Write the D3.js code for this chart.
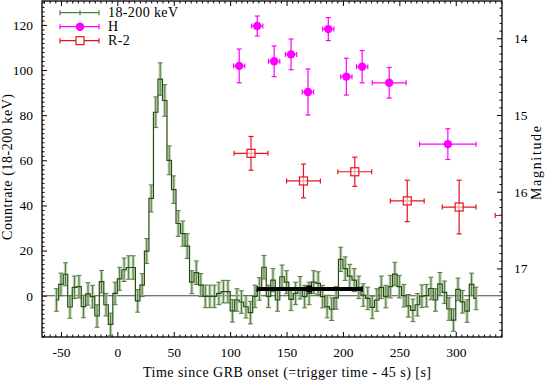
<!DOCTYPE html>
<html>
<head>
<meta charset="utf-8">
<script src="https://cdn.jsdelivr.net/npm/d3@7"></script>
<style>
  body { margin: 0; background: #fff; }
  svg { display: block; font-family: "Liberation Serif", "DejaVu Serif", serif; }
</style>
</head>
<body>
<div id="chart"></div>
<script>
// BAT 18-200 keV light curve, 4 s bins (bin start times, s)
const binStart = [
  -56, -52, -48, -44, -40, -36, -32, -28, -24, -20, -16, -12, -8, -4,
  0, 4, 8, 12, 16, 20, 24, 28, 32, 36, 40, 44, 48, 52, 56, 60,
  64, 68, 72, 76, 80, 84, 88, 92, 96, 100, 104, 108, 112, 116, 120, 124,
  128, 132, 136, 140, 144, 148, 152, 156, 160, 164, 168, 172, 176, 180, 184, 188,
  192, 196, 200, 204, 208, 212, 216, 220, 224, 228, 232, 236, 240, 244, 248, 252,
  256, 260, 264, 268, 272, 276, 280, 284, 288, 292, 296, 300, 304, 308, 312, 316
];
const counts = [
  -1.9, 5.0, 9.5, -5.0, 3.7, 4.0, -4.8, 0.8, -0.4, -9.0, 6.2, -4.0, -12.7, 1.0,
  7.5, 11.5, 12.5, 12.5, -2.3, 4.7, 19.8, 43.1, 81.3, 96.0, 86.5, 60.0, 47.0, 32.0, 27.5, 22.0,
  6.0, 10.2, 4.7, -0.3, -0.3, -0.3, 1.0, 1.8, 1.8, -6.7, -1.9, -2.8, -4.9, -7.5, -0.3, 3.0,
  12.6, -0.3, 6.9, -1.9, 8.4, 6.0, -1.6, 1.0, 3.5, -0.4, 1.0, 6.0, 5.5, -0.4, -4.8, -6.0,
  -1.0, 16.1, 12.0, 8.7, 6.9, 3.7, 0.3, -1.2, -5.2, -1.9, 3.7, -0.4, 4.0, 9.6, 4.0, 0.0,
  -4.5, -6.5, -4.0, -0.2, 0.0, 3.2, -1.9, 5.2, 1.5, -5.9, -10.8, 2.8, -2.7, -6.8, 5.0, -1.2
];
const countErr = [
  5.0, 5.0, 5.1, 5.0, 5.0, 5.0, 5.0, 5.0, 5.0, 5.0, 5.0, 5.0, 5.0, 5.0,
  5.1, 5.2, 5.2, 5.2, 5.0, 5.1, 5.5, 6.0, 6.8, 7.2, 7.0, 6.4, 6.1, 5.7, 5.6, 5.5,
  5.1, 5.2, 5.1, 5.0, 5.0, 5.0, 5.0, 5.0, 5.0, 5.0, 5.0, 5.0, 5.0, 5.0, 5.0, 5.0,
  5.2, 5.0, 5.1, 5.0, 5.2, 5.1, 5.0, 5.0, 5.0, 5.0, 5.0, 5.1, 5.1, 5.0, 5.0, 5.0,
  5.0, 5.4, 5.2, 5.2, 5.1, 5.0, 5.0, 5.0, 5.0, 5.0, 5.0, 5.0, 5.0, 5.2, 5.0, 5.0,
  5.0, 5.0, 5.0, 5.0, 5.0, 5.0, 5.0, 5.1, 5.0, 5.0, 5.0, 5.0, 5.0, 5.0, 5.0, 5.0
];
const binWidth = 4;

// mean level over the optical window
const meanT = 170, meanTlo = 124, meanThi = 217, meanLevel = 3;

// H band
const hTime = [108, 124, 139, 154, 169, 187, 203, 217, 241, 293];
const hTerr = [5, 5, 5, 5, 5, 5, 5, 5, 15, 25];
const hMag  = [14.36, 13.84, 14.30, 14.21, 14.70, 13.88, 14.50, 14.37, 14.58, 15.38];
const hMerr = [0.22, 0.13, 0.20, 0.20, 0.30, 0.15, 0.24, 0.21, 0.20, 0.20];

// R-2 band
const rTime = [118.5, 165, 210.5, 257, 303, 350];
const rTerr = [15, 15, 15, 15, 15, 15];
const rMag  = [15.50, 15.86, 15.74, 16.12, 16.20, 16.31];
const rMerr = [0.22, 0.22, 0.19, 0.27, 0.35, 0.25];

const xTicks = [-50, 0, 50, 100, 150, 200, 250, 300];
const yTicks = [0, 20, 40, 60, 80, 100, 120];
const magTicks = [14, 15, 16, 17];

const W = 547, H = 382;
const margin = { top: 1, right: 45, bottom: 45, left: 42 };
const width = W - margin.left - margin.right,
      height = H - margin.top - margin.bottom;

const green = "#244d10", greenErr = "#527d3d", greenFill = "#b3c7a8";
const magenta = "#ff00ff", red = "#e8121e";

const svg = d3.select("#chart").append("svg")
  .attr("width", W).attr("height", H);

const g = svg.append("g").attr("transform", `translate(${margin.left},${margin.top})`);

const x = d3.scaleLinear().domain([-66.8, 341]).range([0, width]);
const y = d3.scaleLinear().domain([-18.3, 130.6]).range([height, 0]);
const ym = d3.scaleLinear().domain([13.514, 17.894]).range([0, height]);

g.append("defs").append("clipPath").attr("id", "clip")
  .append("rect").attr("width", width).attr("height", height);

// axes (ticks inward)
const tickFmt = d => d;
const minorX = d3.range(-65, 341, 5).filter(d => d % 50 !== 0);
const minorY = d3.range(-18, 131, 2).filter(d => d % 20 !== 0);
const minorM = d3.range(13.6, 17.9, 0.1).map(d => +d.toFixed(1)).filter(d => Math.abs(d - Math.round(d)) > 0.01);

function styleAxis(sel) {
  sel.select(".domain").remove();
  sel.selectAll("line").attr("stroke", "#000").attr("stroke-width", 1);
  sel.selectAll("text").attr("fill", "#000").style("font-size", "13.5px")
    .style("font-family", "'Liberation Serif', serif");
}

g.append("g").attr("transform", `translate(0,${height})`)
  .call(d3.axisBottom(x).tickValues(xTicks).tickFormat(tickFmt).tickSizeInner(-5).tickPadding(10))
  .call(styleAxis);
g.append("g").attr("transform", `translate(0,${height})`)
  .call(d3.axisBottom(x).tickValues(minorX).tickFormat("").tickSizeInner(-2.5))
  .call(styleAxis);
g.append("g")
  .call(d3.axisTop(x).tickValues(xTicks).tickFormat("").tickSizeInner(-5))
  .call(styleAxis);
g.append("g")
  .call(d3.axisTop(x).tickValues(minorX).tickFormat("").tickSizeInner(-2.5))
  .call(styleAxis);

g.append("g")
  .call(d3.axisLeft(y).tickValues(yTicks).tickFormat(tickFmt).tickSizeInner(-5).tickPadding(9))
  .call(styleAxis);
g.append("g")
  .call(d3.axisLeft(y).tickValues(minorY).tickFormat("").tickSizeInner(-2.5))
  .call(styleAxis);

g.append("g").attr("transform", `translate(${width},0)`)
  .call(d3.axisRight(ym).tickValues(magTicks).tickFormat(tickFmt).tickSizeInner(-5).tickPadding(12))
  .call(styleAxis);
g.append("g").attr("transform", `translate(${width},0)`)
  .call(d3.axisRight(ym).tickValues(minorM).tickFormat("").tickSizeInner(-2.5))
  .call(styleAxis);

// zero line
g.append("line")
  .attr("x1", 0).attr("x2", width)
  .attr("y1", y(0)).attr("y2", y(0))
  .attr("stroke", "#444").attr("stroke-width", 1.1);

const plot = g.append("g").attr("clip-path", "url(#clip)");

// light curve error bars
const bins = binStart.map((t, i) => ({ t: t + binWidth / 2, v: counts[i], e: countErr[i] }));
const eb = plot.append("g");
bins.forEach(d => {
  const cx = x(d.t);
  eb.append("rect")
    .attr("x", cx - 1.6).attr("width", 3.2)
    .attr("y", y(d.v + d.e)).attr("height", y(d.v - d.e) - y(d.v + d.e))
    .attr("fill", greenFill).attr("opacity", 0.85);
  eb.append("line")
    .attr("x1", cx).attr("x2", cx)
    .attr("y1", y(d.v + d.e)).attr("y2", y(d.v - d.e))
    .attr("stroke", greenErr).attr("stroke-width", 1);
  [d.v + d.e, d.v - d.e].forEach(v => {
    eb.append("line")
      .attr("x1", cx - 2.5).attr("x2", cx + 2.5)
      .attr("y1", y(v)).attr("y2", y(v))
      .attr("stroke", greenErr).attr("stroke-width", 1);
  });
});

// step line (histeps: starts and ends at outer bin centres)
const stepPts = [];
bins.forEach((d, i) => {
  const lo = i === 0 ? d.t : d.t - binWidth / 2;
  const hi = i === bins.length - 1 ? d.t : d.t + binWidth / 2;
  stepPts.push([lo, d.v], [hi, d.v]);
});
plot.append("path")
  .datum(stepPts)
  .attr("fill", "none")
  .attr("stroke", green)
  .attr("stroke-width", 1.2)
  .attr("d", d3.line().x(p => x(p[0])).y(p => y(p[1])));

// mean level bar
plot.append("line")
  .attr("x1", x(meanTlo)).attr("x2", x(meanThi))
  .attr("y1", y(meanLevel)).attr("y2", y(meanLevel))
  .attr("stroke", "#000").attr("stroke-width", 4);
[meanTlo, meanThi].forEach(t => {
  plot.append("line")
    .attr("x1", x(t)).attr("x2", x(t))
    .attr("y1", y(meanLevel) - 3).attr("y2", y(meanLevel) + 3)
    .attr("stroke", "#000").attr("stroke-width", 1.5);
});
plot.append("rect")
  .attr("x", x(meanT) - 3).attr("y", y(meanLevel) - 3.5)
  .attr("width", 6).attr("height", 7).attr("fill", "#000");

// optical points with error bars
function errCross(sel, t, te, m, me, color, cap) {
  const cx = x(t), cy = ym(m);
  sel.append("line").attr("x1", x(t - te)).attr("x2", x(t + te)).attr("y1", cy).attr("y2", cy)
    .attr("stroke", color).attr("stroke-width", 1.2);
  sel.append("line").attr("x1", cx).attr("x2", cx).attr("y1", ym(m - me)).attr("y2", ym(m + me))
    .attr("stroke", color).attr("stroke-width", 1.2);
  [t - te, t + te].forEach(tt => sel.append("line")
    .attr("x1", x(tt)).attr("x2", x(tt)).attr("y1", cy - cap).attr("y2", cy + cap)
    .attr("stroke", color).attr("stroke-width", 1.2));
  [m - me, m + me].forEach(mm => sel.append("line")
    .attr("x1", cx - cap).attr("x2", cx + cap).attr("y1", ym(mm)).attr("y2", ym(mm))
    .attr("stroke", color).attr("stroke-width", 1.2));
}

const hG = plot.append("g");
hTime.forEach((t, i) => {
  errCross(hG, t, hTerr[i], hMag[i], hMerr[i], magenta, 2.5);
  hG.append("circle").attr("cx", x(t)).attr("cy", ym(hMag[i])).attr("r", 4.2).attr("fill", magenta);
});

const rG = plot.append("g");
rTime.forEach((t, i) => {
  errCross(rG, t, rTerr[i], rMag[i], rMerr[i], red, 2.5);
  rG.append("rect").attr("x", x(t) - 4).attr("y", ym(rMag[i]) - 4)
    .attr("width", 8).attr("height", 8)
    .attr("fill", "#fff").attr("fill-opacity", 0.6)
    .attr("stroke", red).attr("stroke-width", 1.2);
});

// frame
g.append("rect").attr("width", width).attr("height", height)
  .attr("fill", "none").attr("stroke", "#000").attr("stroke-width", 1.3);

// legend
const legendItems = ["18-200 keV", "H", "R-2"];
const legendColors = [green, magenta, red];
const lg = g.append("g");
legendItems.forEach((name, i) => {
  const ly = 11.7 + i * 14;
  const c = i === 0 ? greenErr : legendColors[i];
  lg.append("line").attr("x1", 18).attr("x2", 57).attr("y1", ly).attr("y2", ly)
    .attr("stroke", c).attr("stroke-width", 1.2);
  [18, 57].forEach(lx => lg.append("line").attr("x1", lx).attr("x2", lx)
    .attr("y1", ly - 2.5).attr("y2", ly + 2.5).attr("stroke", c).attr("stroke-width", 1.2));
  if (i === 0) {
    lg.append("line").attr("x1", 38).attr("x2", 38).attr("y1", ly - 2.5).attr("y2", ly + 2.5)
      .attr("stroke", c).attr("stroke-width", 1.2);
  } else if (i === 1) {
    lg.append("circle").attr("cx", 38).attr("cy", ly).attr("r", 4.2).attr("fill", magenta);
  } else {
    lg.append("rect").attr("x", 34).attr("y", ly - 4).attr("width", 8).attr("height", 8)
      .attr("fill", "#fff").attr("stroke", red).attr("stroke-width", 1.2);
  }
  lg.append("text").attr("x", 66).attr("y", ly + 4.5)
    .style("font-size", "14px").style("letter-spacing", "0.4px").text(name);
});

// axis titles
svg.append("text")
  .attr("x", 287).attr("y", 377)
  .attr("text-anchor", "middle").style("font-size", "14px")
  .attr("textLength", 288).attr("lengthAdjust", "spacing")
  .text("Time since GRB onset (=trigger time - 45 s) [s]");
svg.append("text")
  .attr("transform", `translate(12,${margin.top + height / 2 - 2}) rotate(-90)`)
  .attr("text-anchor", "middle").style("font-size", "14px")
  .attr("textLength", 146).attr("lengthAdjust", "spacing")
  .text("Countrate (18-200 keV)");
svg.append("text")
  .attr("transform", `translate(541,${margin.top + height / 2 - 6}) rotate(-90)`)
  .attr("text-anchor", "middle").style("font-size", "14px")
  .attr("textLength", 74).attr("lengthAdjust", "spacing")
  .text("Magnitude");
</script>
</body>
</html>
